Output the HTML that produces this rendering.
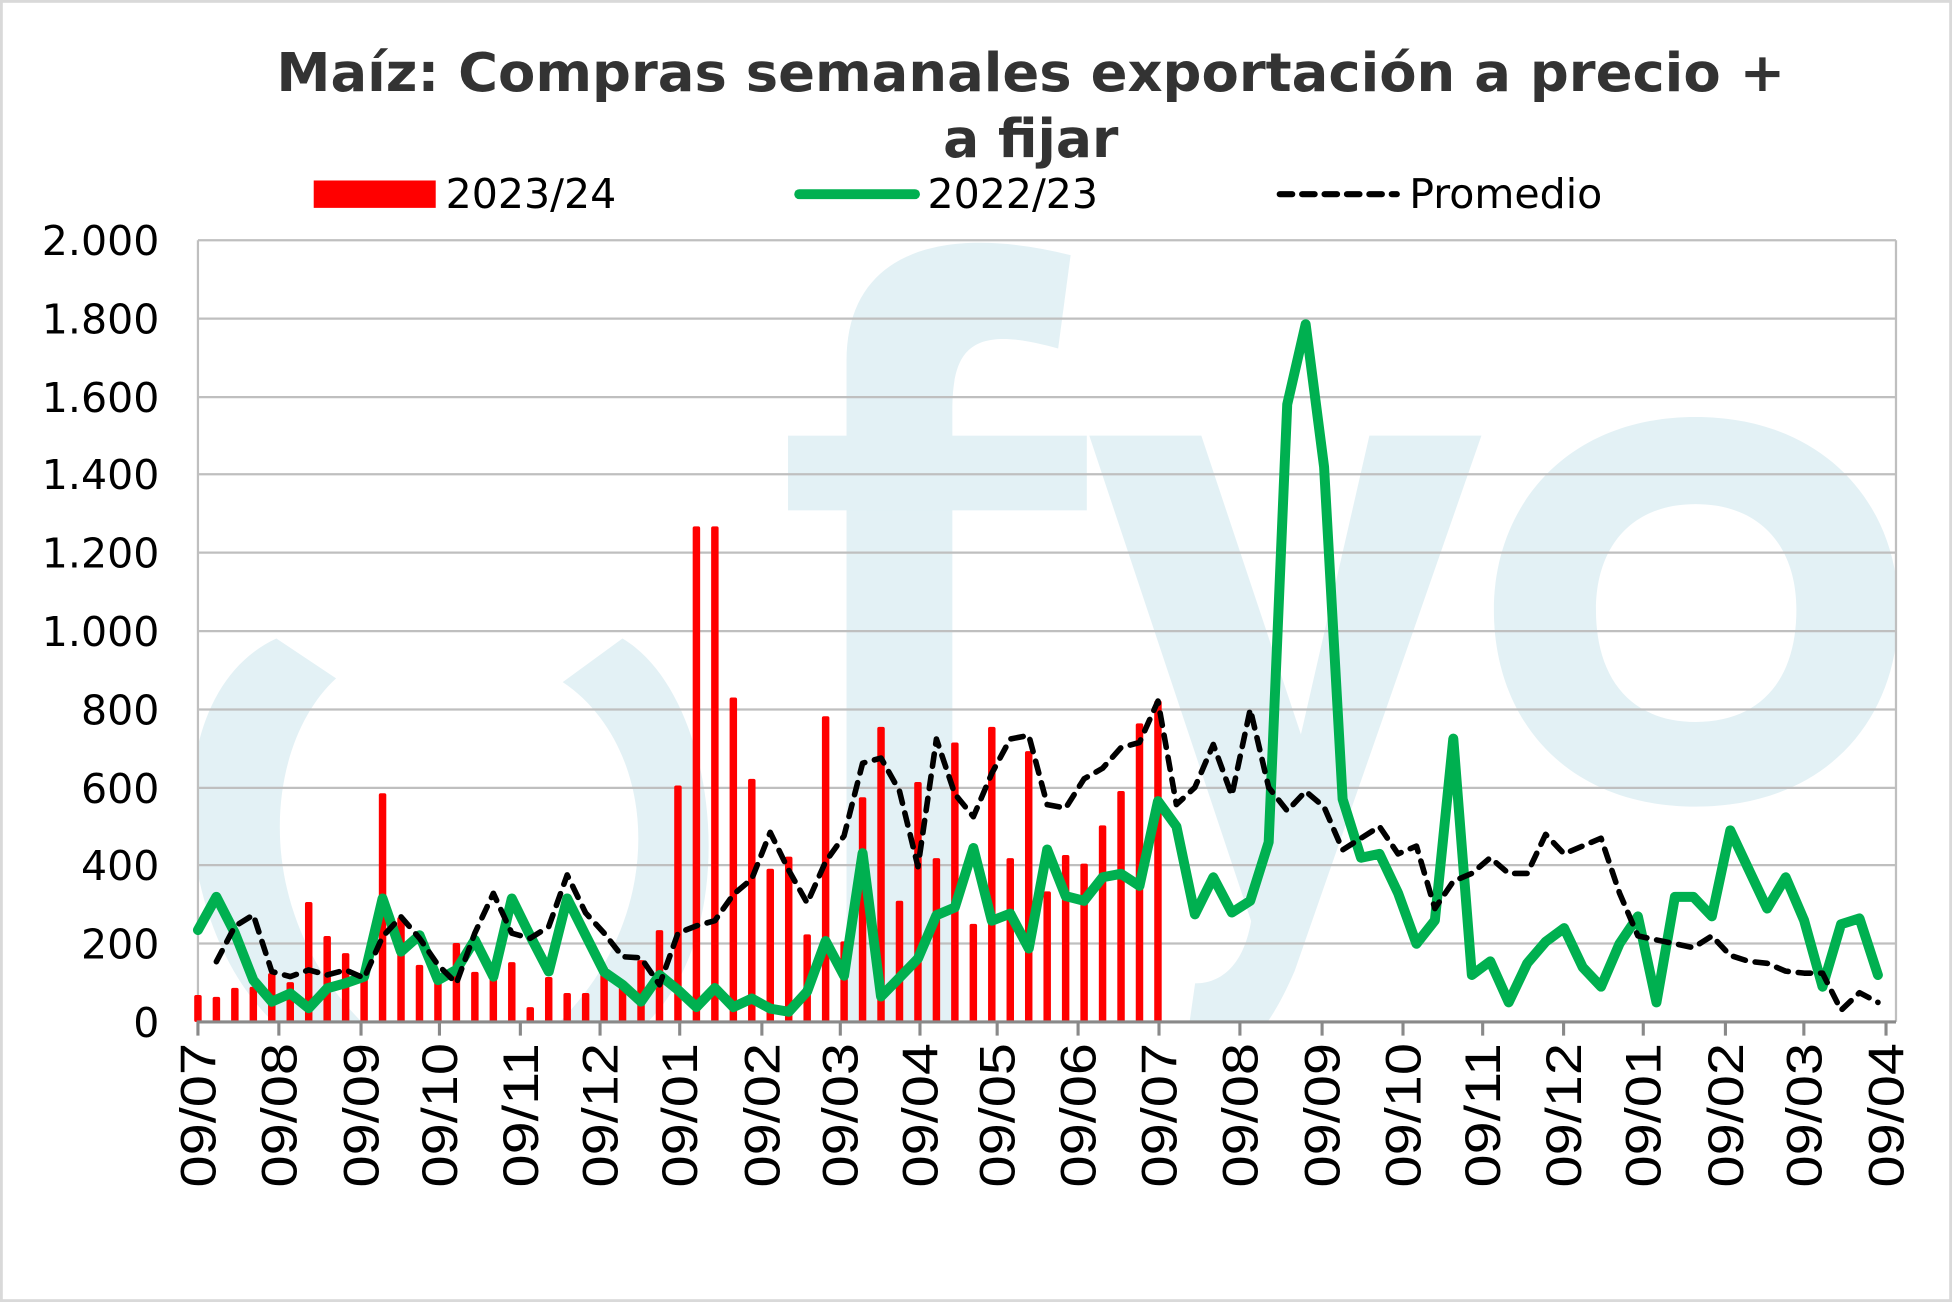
<!DOCTYPE html>
<html><head><meta charset="utf-8"><style>
html,body{margin:0;padding:0;background:#fff;}
svg{display:block;}
</style></head><body>
<svg id="c" width="1952" height="1302" viewBox="0 0 1568 1046" preserveAspectRatio="none" xmlns="http://www.w3.org/2000/svg">
<rect x="1" y="1" width="1566" height="1044" fill="#fff" stroke="#d9d9d9" stroke-width="2.5"/>
<g clip-path="url(#pc)">
<clipPath id="pc"><rect x="159" y="193" width="1364" height="628"/></clipPath>
<g fill="#e3f1f5" stroke="none">
<path d="M222,513 C120,560 140,760 230,830 L300,830 C200,740 210,600 270,545 Z"/>
<path d="M500,513 C580,560 600,760 510,830 L440,830 C540,740 530,600 452,548 Z"/>
<path d="M680,830 L680,290 C680,200 760,180 860,205 L850,280 C780,260 765,280 765,330 L765,830 Z"/>
<rect x="633" y="350" width="240" height="60"/>
<path d="M875,350 L965,350 L1045,590 L1100,350 L1190,350 L1040,780 C1010,850 980,860 950,860 L960,790 C985,790 1000,770 1005,740 Z"/>
<path fill-rule="evenodd" d="M1362,335 C1260,335 1200,405 1200,490 C1200,580 1260,648 1362,648 C1465,648 1525,580 1525,490 C1525,405 1465,335 1362,335 Z M1362,405 C1310,405 1282,440 1282,490 C1282,545 1310,580 1362,580 C1415,580 1443,545 1443,490 C1443,440 1415,405 1362,405 Z"/>
</g>
</g>
<g stroke="#bfbfbf" stroke-width="1.8">
<line x1="159" y1="193" x2="1523" y2="193"/>
<line x1="159" y1="256" x2="1523" y2="256"/>
<line x1="159" y1="319" x2="1523" y2="319"/>
<line x1="159" y1="381" x2="1523" y2="381"/>
<line x1="159" y1="444" x2="1523" y2="444"/>
<line x1="159" y1="507" x2="1523" y2="507"/>
<line x1="159" y1="570" x2="1523" y2="570"/>
<line x1="159" y1="633" x2="1523" y2="633"/>
<line x1="159" y1="695" x2="1523" y2="695"/>
<line x1="159" y1="758" x2="1523" y2="758"/>
<line x1="159" y1="193" x2="159" y2="821"/>
<line x1="1523" y1="193" x2="1523" y2="821"/>
</g>
<g id="bars" fill="#ff0000"></g>
<line x1="158" y1="821" x2="1523" y2="821" stroke="#898989" stroke-width="2.5"/>
<g id="ticks" stroke="#898989" stroke-width="2.5"></g>
<polyline id="green" fill="none" stroke="#00b050" stroke-width="8" stroke-linejoin="round" stroke-linecap="round"/>
<polyline id="avg" fill="none" stroke="#000" stroke-width="4.5" stroke-dasharray="10 8" stroke-linejoin="round" stroke-linecap="round"/>
<g font-family="'DejaVu Sans',Verdana,sans-serif" font-size="33" fill="#000" text-anchor="end">
<text x="128" y="205">2.000</text>
<text x="128" y="268">1.800</text>
<text x="128" y="331">1.600</text>
<text x="128" y="393">1.400</text>
<text x="128" y="456">1.200</text>
<text x="128" y="519">1.000</text>
<text x="128" y="582">800</text>
<text x="128" y="645">600</text>
<text x="128" y="707">400</text>
<text x="128" y="770">200</text>
<text x="128" y="833">0</text>
</g>
<g font-family="'Liberation Sans',Arial,sans-serif" font-size="40" fill="#000" text-anchor="end">
<text transform="translate(173,838) rotate(-90)" textLength="116" lengthAdjust="spacingAndGlyphs">09/07</text>
<text transform="translate(238,838) rotate(-90)" textLength="116" lengthAdjust="spacingAndGlyphs">09/08</text>
<text transform="translate(304,838) rotate(-90)" textLength="116" lengthAdjust="spacingAndGlyphs">09/09</text>
<text transform="translate(367,838) rotate(-90)" textLength="116" lengthAdjust="spacingAndGlyphs">09/10</text>
<text transform="translate(432,838) rotate(-90)" textLength="116" lengthAdjust="spacingAndGlyphs">09/11</text>
<text transform="translate(496,838) rotate(-90)" textLength="116" lengthAdjust="spacingAndGlyphs">09/12</text>
<text transform="translate(560,838) rotate(-90)" textLength="116" lengthAdjust="spacingAndGlyphs">09/01</text>
<text transform="translate(626,838) rotate(-90)" textLength="116" lengthAdjust="spacingAndGlyphs">09/02</text>
<text transform="translate(689,838) rotate(-90)" textLength="116" lengthAdjust="spacingAndGlyphs">09/03</text>
<text transform="translate(753,838) rotate(-90)" textLength="116" lengthAdjust="spacingAndGlyphs">09/04</text>
<text transform="translate(815,838) rotate(-90)" textLength="116" lengthAdjust="spacingAndGlyphs">09/05</text>
<text transform="translate(880,838) rotate(-90)" textLength="116" lengthAdjust="spacingAndGlyphs">09/06</text>
<text transform="translate(945,838) rotate(-90)" textLength="116" lengthAdjust="spacingAndGlyphs">09/07</text>
<text transform="translate(1010,838) rotate(-90)" textLength="116" lengthAdjust="spacingAndGlyphs">09/08</text>
<text transform="translate(1076,838) rotate(-90)" textLength="116" lengthAdjust="spacingAndGlyphs">09/09</text>
<text transform="translate(1141,838) rotate(-90)" textLength="116" lengthAdjust="spacingAndGlyphs">09/10</text>
<text transform="translate(1205,838) rotate(-90)" textLength="116" lengthAdjust="spacingAndGlyphs">09/11</text>
<text transform="translate(1270,838) rotate(-90)" textLength="116" lengthAdjust="spacingAndGlyphs">09/12</text>
<text transform="translate(1334,838) rotate(-90)" textLength="116" lengthAdjust="spacingAndGlyphs">09/01</text>
<text transform="translate(1400,838) rotate(-90)" textLength="116" lengthAdjust="spacingAndGlyphs">09/02</text>
<text transform="translate(1463,838) rotate(-90)" textLength="116" lengthAdjust="spacingAndGlyphs">09/03</text>
<text transform="translate(1529,838) rotate(-90)" textLength="116" lengthAdjust="spacingAndGlyphs">09/04</text>
</g>
<g font-family="'DejaVu Sans',Verdana,sans-serif" font-weight="bold" font-size="43" fill="#333" text-anchor="middle">
<text x="828" y="73" textLength="1212" lengthAdjust="spacingAndGlyphs">Maíz: Compras semanales exportación a precio +</text>
<text x="828" y="126">a fijar</text>
</g>
<rect x="252" y="145" width="98" height="22" fill="#ff0000"/>
<line x1="642" y1="156" x2="735" y2="156" stroke="#00b050" stroke-width="8" stroke-linecap="round"/>
<line x1="1028" y1="156" x2="1122" y2="156" stroke="#000" stroke-width="5" stroke-dasharray="10 8" stroke-linecap="round"/>
<g font-family="'DejaVu Sans',Verdana,sans-serif" font-size="33" fill="#000">
<text x="358" y="167">2023/24</text>
<text x="745" y="167">2022/23</text>
<text x="1132" y="167">Promedio</text>
</g>
</svg>
<script>
(function(){
var ns="http://www.w3.org/2000/svg";
function X(i){return 159+i*14.83;}
function Y(v){return 821-v*0.314;}
var red=[69,64,87,90,125,102,307,220,176,125,585,268,146,115,202,128,115,153,38,115,74,74,141,90,158,235,605,1268,1268,830,622,392,423,224,782,206,575,755,310,614,419,715,251,755,419,693,334,427,405,503,591,764,822];
var g=[235,320,227,107,52,73,35,86,99,116,316,180,222,107,133,210,116,316,220,129,316,222,128,95,52,120,82,38,87,38,60,34,26,78,207,118,432,65,113,162,273,293,445,259,277,188,441,322,310,370,379,348,565,500,275,370,280,310,460,1580,1785,1420,570,420,430,330,200,260,725,120,155,50,150,205,240,140,90,200,270,50,320,320,270,490,390,290,370,260,90,250,265,120];
var a=[null,154,245,274,129,116,133,120,133,112,218,269,214,146,99,227,329,227,214,244,376,279,227,167,164,95,227,246,259,326,366,485,388,304,410,476,662,675,591,397,724,583,525,636,724,733,556,547,622,649,702,715,821,556,600,710,580,800,600,540,590,550,440,470,500,430,450,290,360,380,420,380,380,480,430,450,470,330,220,210,200,190,220,170,155,150,130,125,125,30,75,50];
var bars=document.getElementById('bars');
red.forEach(function(v,i){var r=document.createElementNS(ns,'rect');var x=X(i);r.setAttribute('x',x-3);r.setAttribute('width',6);r.setAttribute('y',Y(v));r.setAttribute('height',821-Y(v));r.setAttribute('rx',1.5);bars.appendChild(r);});
document.getElementById('green').setAttribute('points',g.map(function(v,i){return X(i).toFixed(1)+','+Y(v).toFixed(1)}).join(' '));
var p=[];a.forEach(function(v,i){if(v!==null)p.push(X(i).toFixed(1)+','+Y(v).toFixed(1));});
document.getElementById('avg').setAttribute('points',p.join(' '));
var t=[159,224,290,353,418,482,546,612,675,739,801,866,931,996,1062,1127,1191,1256,1320,1386,1449,1515];
var tk=document.getElementById('ticks');
t.forEach(function(x){var l=document.createElementNS(ns,'line');l.setAttribute('x1',x);l.setAttribute('x2',x);l.setAttribute('y1',821);l.setAttribute('y2',832);tk.appendChild(l);});
})();
</script>
</body></html>
